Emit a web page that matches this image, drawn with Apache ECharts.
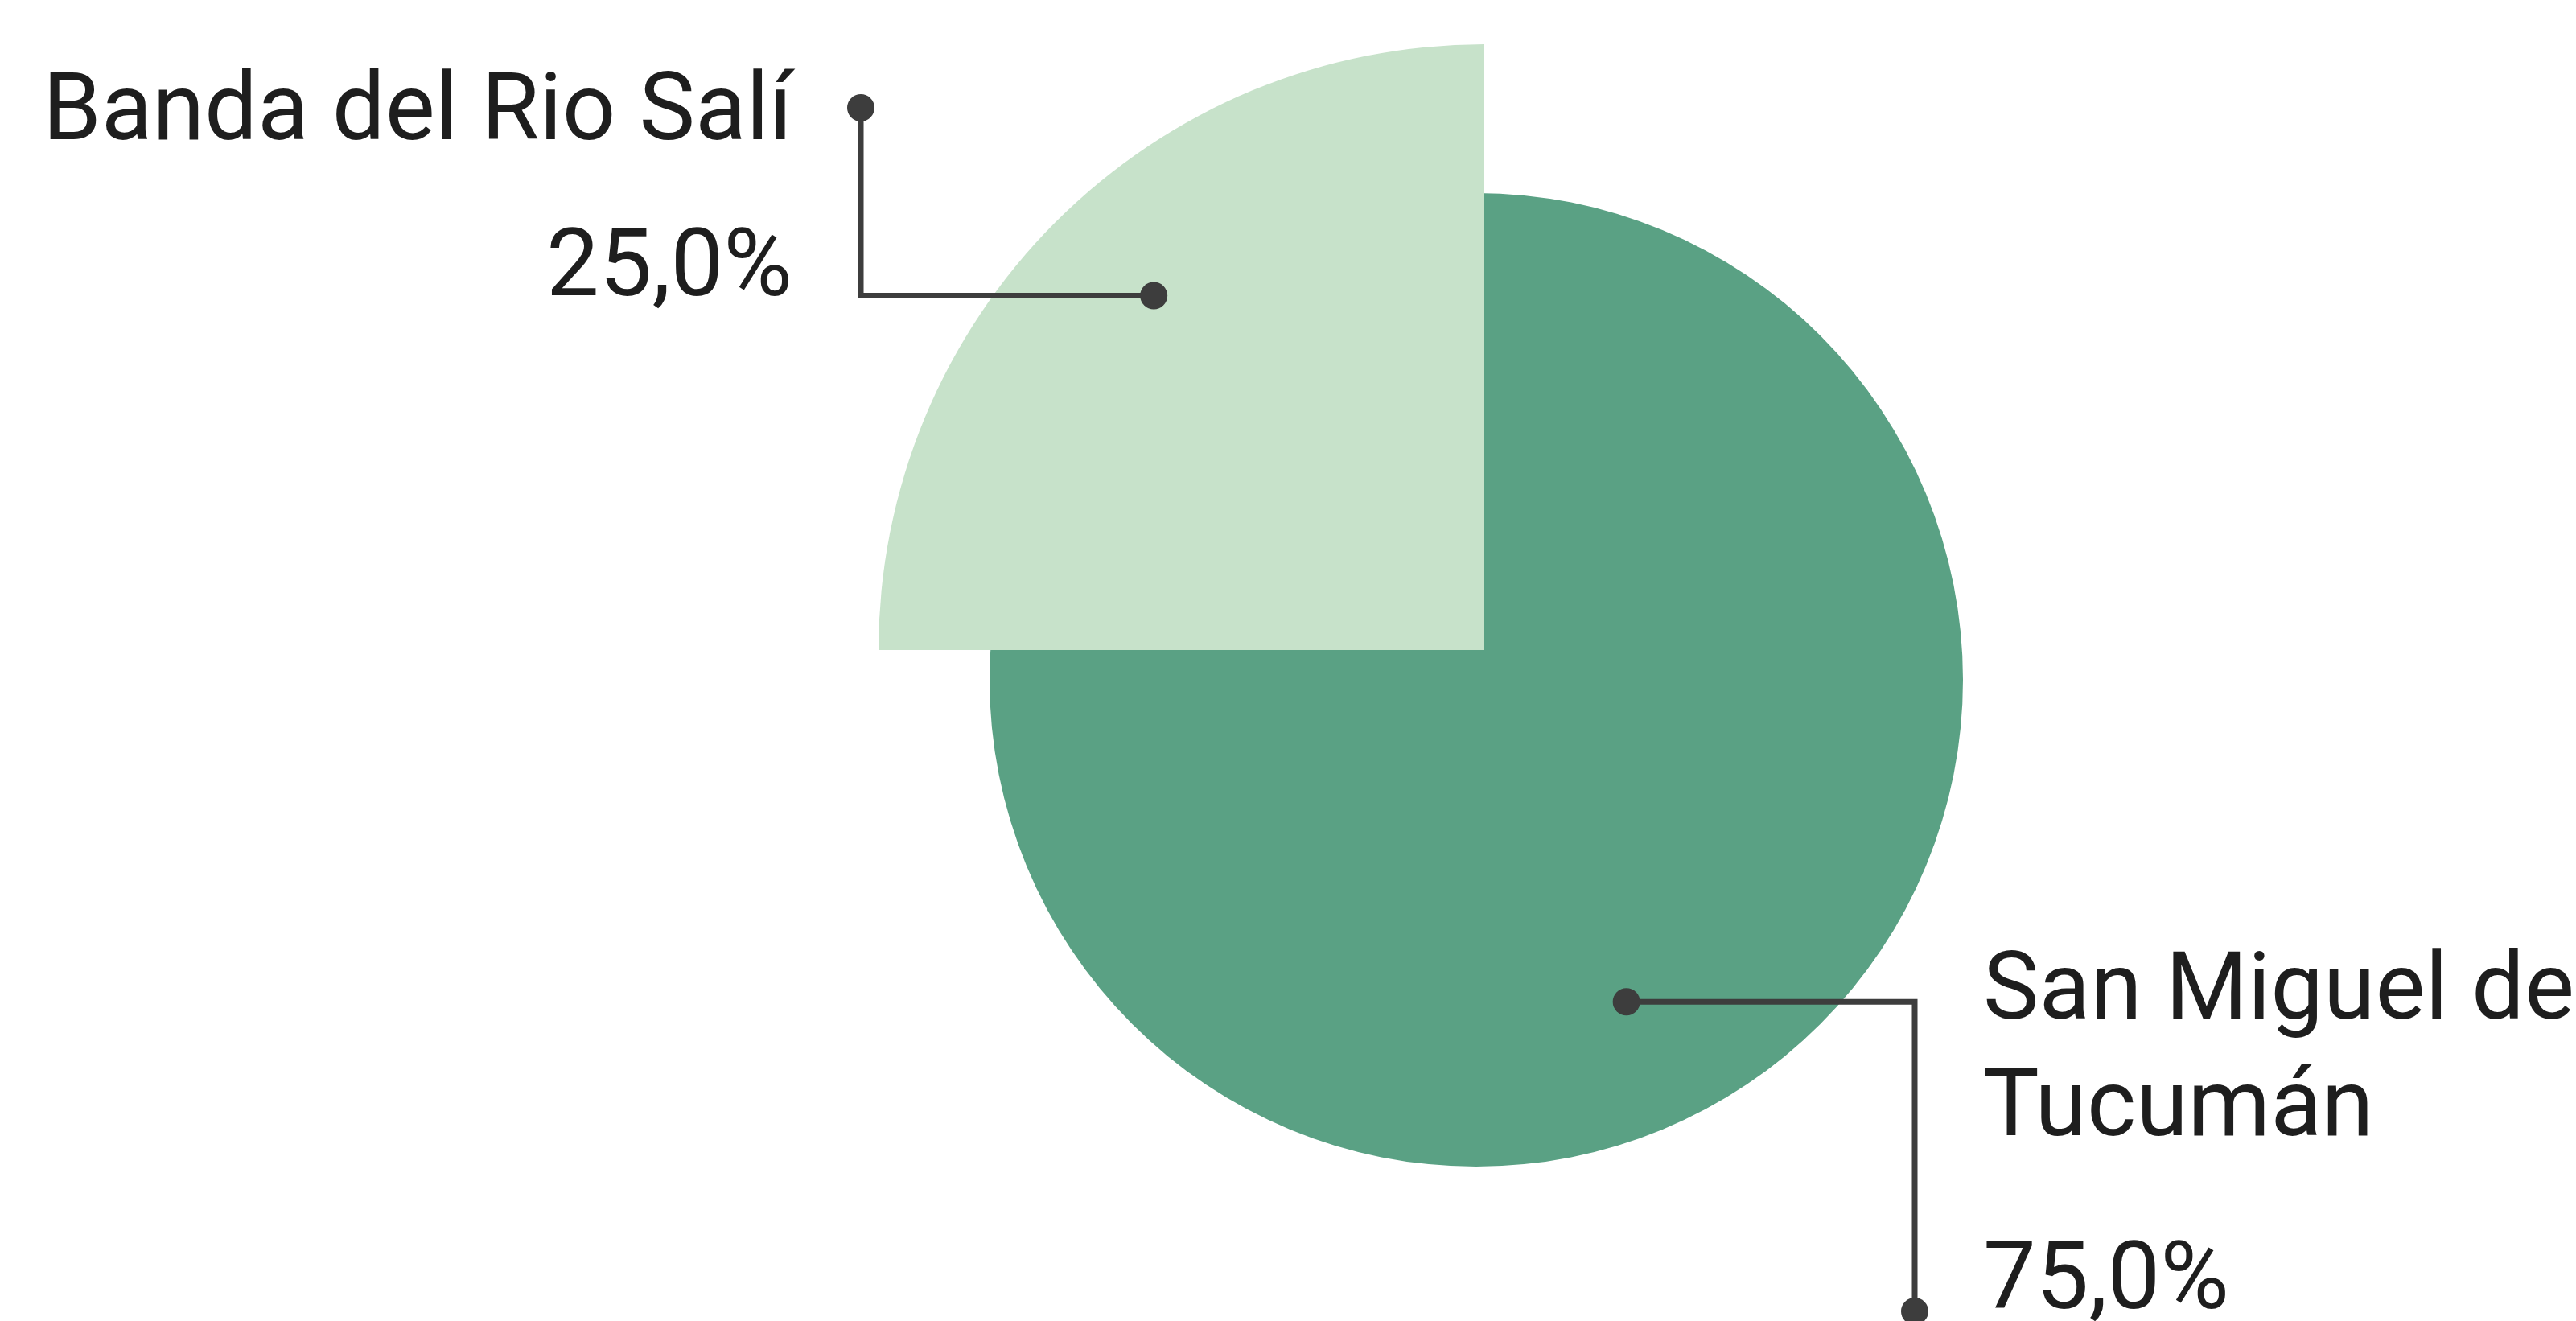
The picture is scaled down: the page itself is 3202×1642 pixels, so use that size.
<!doctype html>
<meta charset="utf-8">
<title>Banda del Rio Salí / San Miguel de Tucumán</title>
<style>
	html, body {
		margin: 0;
		padding: 0;
		background: #ffffff;
	}

	#chart {
		width: 3202px;
		height: 1642px;
	}
</style>
<div id="chart"></div>
<script src="https://cdn.jsdelivr.net/npm/echarts@6/dist/echarts.min.js"></script>
<script>
	// datos
	const names = ['San Miguel de Tucumán', 'Banda del Rio Salí'];
	const labelNames = ['San Miguel de\nTucumán', 'Banda del Rio Salí'];
	const shares = [75.0, 25.0];

	const colors = ['#5aa184', '#c7e2ca'];
	const lineColor = '#3d3d3d';
	const textColor = '#1e1e1e';

	// each slice is drawn by its own pie (the small one sticks out further,
	// the big one fills in underneath it)
	const pies = [
		{ center: [1835, 845], radius: 605 },
		{ center: [1845, 808], radius: 753 }
	];
	// leader line: start inside the slice (angle, share of radius), elbow x, end y
	const leaders = [
		{ angle: -65, dist: 0.73, elbowX: 2380, endY: 1630, labelX: 2465, labelY: 1164, align: 'left' },
		{ angle: 133, dist: 0.80, elbowX: 1070, endY: 134, labelX: 985, labelY: 71, align: 'right' }
	];

	function polarPoint(geo, deg, frac) {
		const a = deg * Math.PI / 180;
		const r = geo.radius * frac;
		return [geo.center[0] + r * Math.cos(a), geo.center[1] - r * Math.sin(a)];
	}

	function leaderPoints(i) {
		const l = leaders[i];
		const p0 = polarPoint(pies[i], l.angle, l.dist);
		return [p0, [l.elbowX, p0[1]], [l.elbowX, l.endY]];
	}

	function pct(v) {
		return v.toFixed(1).replace('.', ',') + '%';
	}

	const font = { fontFamily: 'Roboto', fontSize: 117, fontWeight: 400, color: textColor };

	function pieSeries(idx) {
		return {
			type: 'pie',
			center: pies[idx].center,
			radius: pies[idx].radius,
			startAngle: 90,
			clockwise: true,
			silent: true,
			avoidLabelOverlap: false,
			animation: false,
			data: names.map((n, i) => ({
				name: n,
				value: shares[i],
				itemStyle: { color: idx === 0 ? colors[0] : (i === idx ? colors[i] : 'rgba(0,0,0,0)') },
				label: { show: i === idx }
			})),
			label: {
				position: 'outside',
				formatter: p => '{name|' + labelNames[p.dataIndex] + '}\n{pct' + p.dataIndex + '|' + pct(shares[p.dataIndex]) + '}',
				rich: {
					name: Object.assign({ lineHeight: 145 }, font),
					pct0: Object.assign({ lineHeight: 286 }, font),
					pct1: Object.assign({ lineHeight: 244 }, font)
				}
			},
			labelLine: { show: false },
			labelLayout: function (params) {
				if (params.dataIndex !== idx) return {};
				const l = leaders[idx];
				return {
					x: l.labelX,
					y: l.labelY,
					align: l.align,
					verticalAlign: 'top'
				};
			}
		};
	}

	// leader lines with a dot at each end, drawn above the slices
	const guides = [];
	leaders.forEach((l, i) => {
		const pts = leaderPoints(i);
		guides.push({
			type: 'polyline',
			shape: { points: pts },
			style: { stroke: lineColor, lineWidth: 7, fill: null, lineJoin: 'miter' },
			z: 100,
			silent: true
		});
		[pts[0], pts[2]].forEach(p => {
			guides.push({
				type: 'circle',
				shape: { cx: p[0], cy: p[1], r: 17 },
				style: { fill: lineColor },
				z: 101,
				silent: true
			});
		});
	});

	const option = {
		backgroundColor: '#ffffff',
		animation: false,
		series: [pieSeries(0), pieSeries(1)],
		graphic: guides
	};

	var chart = echarts.init(document.getElementById('chart'));
	chart.setOption(option);
</script>
